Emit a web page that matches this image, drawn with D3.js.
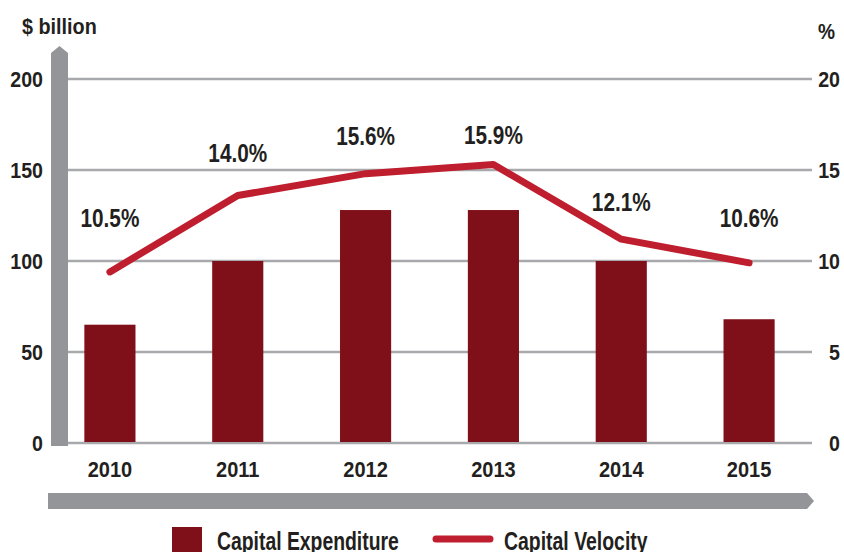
<!DOCTYPE html>
<html>
<head>
  <meta charset="utf-8" />
  <script src="https://d3js.org/d3.v7.min.js"></script>
  <style>
    body, html { margin: 0; background: #fff; }
    svg text { font-family: "Liberation Sans", Arial, sans-serif; font-weight: bold; fill: #231f20; }
  </style>
</head>
<body>
  <svg id="chart" width="844" height="552"></svg>
  <script>
// data
var years = ["2010", "2011", "2012", "2013", "2014", "2015"];
var expenditure = [65, 100, 128, 128, 100, 68];      // $ billion
var velocity = [9.4, 13.6, 14.8, 15.3, 11.2, 9.9];    // % as drawn
var velocityLabels = ["10.5%", "14.0%", "15.6%", "15.9%", "12.1%", "10.6%"];
var leftTicks = [0, 50, 100, 150, 200];
var rightTicks = [0, 5, 10, 15, 20];

var svg = d3.select("#chart");
var gray = "#939598", grid = "#a7a9ac", barColor = "#7f1019", lineColor = "#be1e2d";

var x = d3.scaleBand().domain(years).range([46, 813]).paddingInner(0.6).paddingOuter(0.3);
var yL = d3.scaleLinear().domain([0, 200]).range([443, 79]);
var yR = d3.scaleLinear().domain([0, 20]).range([443, 79]);

// condensed bold text: squeeze horizontally around the anchor point
function label(parent, tx, ty, str, size, anchor, squeeze) {
  return parent.append("text")
    .attr("transform", "translate(" + tx + "," + ty + ") scale(" + (squeeze || 0.87) + ",1)")
    .attr("text-anchor", anchor || "start")
    .style("font-size", size + "px")
    .text(str);
}

// gridlines
svg.append("g").selectAll("line")
  .data(leftTicks)
  .enter().append("line")
  .attr("x1", 68).attr("x2", 812)
  .attr("y1", function(d) { return yL(d); })
  .attr("y2", function(d) { return yL(d); })
  .attr("stroke", grid).attr("stroke-width", 2.5);

// left axis arrow bar
svg.append("path")
  .attr("d", "M51,446 L51,53 L59.5,46 L68,53 L68,446 Z")
  .attr("fill", gray);

// bottom arrow bar
svg.append("path")
  .attr("d", "M48,493 L807,493 L814,501 L807,509 L48,509 Z")
  .attr("fill", gray);

// bars
svg.append("g").selectAll("rect")
  .data(expenditure)
  .enter().append("rect")
  .attr("x", function(d, i) { return x(years[i]); })
  .attr("width", x.bandwidth())
  .attr("y", function(d) { return yL(d); })
  .attr("height", function(d) { return yL(0) - yL(d) - 1; })
  .attr("fill", barColor);

// velocity line
var line = d3.line()
  .x(function(d, i) { return x(years[i]) + x.bandwidth() / 2; })
  .y(function(d) { return yR(d); });

svg.append("path")
  .datum(velocity)
  .attr("d", line)
  .attr("fill", "none")
  .attr("stroke", lineColor)
  .attr("stroke-width", 7)
  .attr("stroke-linecap", "round")
  .attr("stroke-linejoin", "round");

// value labels
var labelLift = [45, 33, 29, 21, 28, 36];
var vl = svg.append("g");
velocityLabels.forEach(function(d, i) {
  label(vl, x(years[i]) + x.bandwidth() / 2, yR(velocity[i]) - labelLift[i], d, 25, "middle", 0.83);
});

// axis labels
var ax = svg.append("g");
leftTicks.forEach(function(d) { label(ax, 43, yL(d) + 8, d, 22.5, "end"); });
rightTicks.forEach(function(d) { label(ax, 840, yR(d) + 8, d, 22.5, "end"); });
years.forEach(function(d) { label(ax, x(d) + x.bandwidth() / 2, 477, d, 22.5, "middle", 0.89); });

label(svg, 22, 34, "$ billion", 22, "start", 0.9);
label(svg, 818, 39, "%", 22, "start");

// legend
var legend = svg.append("g");
legend.append("rect").attr("x", 172).attr("y", 527).attr("width", 30).attr("height", 30).attr("fill", barColor);
label(legend, 217, 550, "Capital Expenditure", 25, "start")
  .attr("textLength", 209).attr("lengthAdjust", "spacingAndGlyphs");
legend.append("line").attr("x1", 436).attr("x2", 490).attr("y1", 539).attr("y2", 539)
  .attr("stroke", lineColor).attr("stroke-width", 7).attr("stroke-linecap", "round");
label(legend, 504, 550, "Capital Velocity", 25, "start")
  .attr("textLength", 165).attr("lengthAdjust", "spacingAndGlyphs");
  </script>
</body>
</html>
